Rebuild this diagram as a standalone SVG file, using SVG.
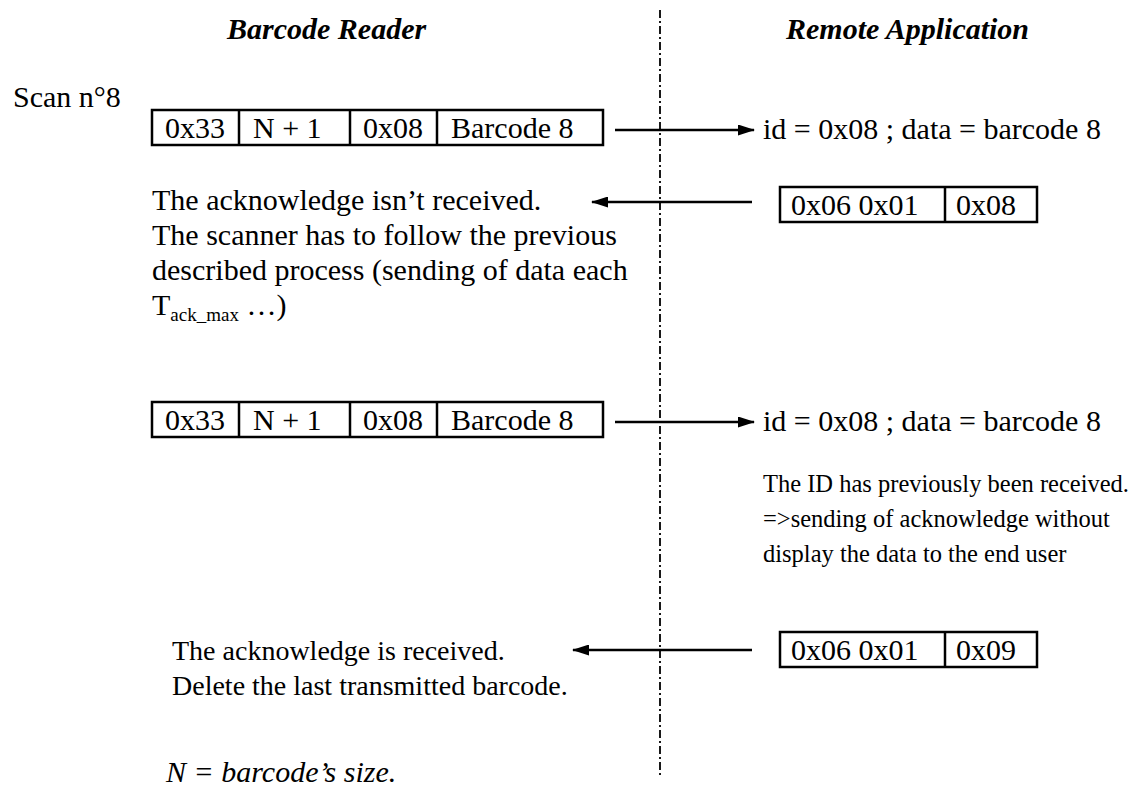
<svg xmlns="http://www.w3.org/2000/svg" width="1128" height="795" viewBox="0 0 1128 795">
  <style>
    text { font-family: "Liberation Serif", "Times New Roman", serif; font-size: 30px; fill: #000; }
    .head { font-weight: bold; font-style: italic; }
    .note { font-style: italic; }
    .sub { font-size: 19px; }
    .small { font-size: 24.5px; }
    .mid { font-size: 28px; }
    .cell { fill: #fff; stroke: #000; stroke-width: 2.5; }
    .div { stroke: #000; stroke-width: 2.5; }
    .msg { stroke: #000; stroke-width: 2.5; fill: none; }
    .life { stroke: #000; stroke-width: 1.8; stroke-dasharray: 8 3 2 3; }
  </style>
  <defs>
    <marker id="head" markerWidth="17" markerHeight="11" refX="16" refY="5.5" orient="auto" markerUnits="userSpaceOnUse">
      <path d="M0,0 L17,5.5 L0,11 Z" fill="#000"/>
    </marker>
  </defs>

  <!-- column titles -->
  <g id="title-reader"><text class="head" x="227" y="39">Barcode Reader</text></g>
  <g id="title-remote"><text class="head" x="786" y="39">Remote Application</text></g>

  <!-- separator between the two parties -->
  <g id="lifeline"><line class="life" x1="660" y1="10" x2="660" y2="776"/></g>

  <g id="scan-label"><text x="13" y="107">Scan n°8</text></g>

  <!-- first transmission frame -->
  <g id="frame-1">
    <rect class="cell" x="152" y="110" width="451" height="35"/>
    <line class="div" x1="239" y1="110" x2="239" y2="145"/>
    <line class="div" x1="350" y1="110" x2="350" y2="145"/>
    <line class="div" x1="437" y1="110" x2="437" y2="145"/>
    <text x="165" y="138">0x33</text>
    <text x="253" y="138">N + 1</text>
    <text x="363" y="138">0x08</text>
    <text x="451" y="138">Barcode 8</text>
  </g>
  <g id="recv-1"><text x="763" y="139">id = 0x08 ; data = barcode 8</text></g>

  <!-- first acknowledge frame -->
  <g id="ack-1">
    <rect class="cell" x="780" y="187" width="257" height="35"/>
    <line class="div" x1="945" y1="187" x2="945" y2="222"/>
    <text x="791" y="215">0x06 0x01</text>
    <text x="956" y="215">0x08</text>
  </g>
  <g id="note-lost">
    <text x="152" y="210">The acknowledge isn’t received.</text>
    <text x="152" y="245">The scanner has to follow the previous</text>
    <text x="152" y="280">described process (sending of data each</text>
    <text x="152" y="315">T<tspan class="sub" dy="6">ack_max</tspan><tspan dy="-6"> …)</tspan></text>
  </g>

  <!-- second transmission frame -->
  <g id="frame-2">
    <rect class="cell" x="152" y="402" width="451" height="35"/>
    <line class="div" x1="239" y1="402" x2="239" y2="437"/>
    <line class="div" x1="350" y1="402" x2="350" y2="437"/>
    <line class="div" x1="437" y1="402" x2="437" y2="437"/>
    <text x="165" y="430">0x33</text>
    <text x="253" y="430">N + 1</text>
    <text x="363" y="430">0x08</text>
    <text x="451" y="430">Barcode 8</text>
  </g>
  <g id="recv-2"><text x="763" y="431">id = 0x08 ; data = barcode 8</text></g>
  <g id="note-dup">
    <text class="small" x="763" y="492">The ID has previously been received.</text>
    <text class="small" x="763" y="527">=&gt;sending of acknowledge without</text>
    <text class="small" x="763" y="562">display the data to the end user</text>
  </g>

  <!-- second acknowledge frame -->
  <g id="ack-2">
    <rect class="cell" x="780" y="632" width="257" height="35"/>
    <line class="div" x1="945" y1="632" x2="945" y2="667"/>
    <text x="791" y="660">0x06 0x01</text>
    <text x="956" y="660">0x09</text>
  </g>
  <g id="note-ok">
    <text class="mid" x="172" y="660">The acknowledge is received.</text>
    <text class="mid" x="172" y="695">Delete the last transmitted barcode.</text>
  </g>

  <g id="legend"><text class="note" x="166" y="782">N = barcode’s size.</text></g>

  <!-- messages -->
  <g id="connectors">
    <line class="msg" x1="615" y1="130" x2="754" y2="130" marker-end="url(#head)"/>
    <line class="msg" x1="752" y1="202" x2="592" y2="202" marker-end="url(#head)"/>
    <line class="msg" x1="615" y1="422" x2="754" y2="422" marker-end="url(#head)"/>
    <line class="msg" x1="752" y1="650" x2="573" y2="650" marker-end="url(#head)"/>
  </g>
</svg>
